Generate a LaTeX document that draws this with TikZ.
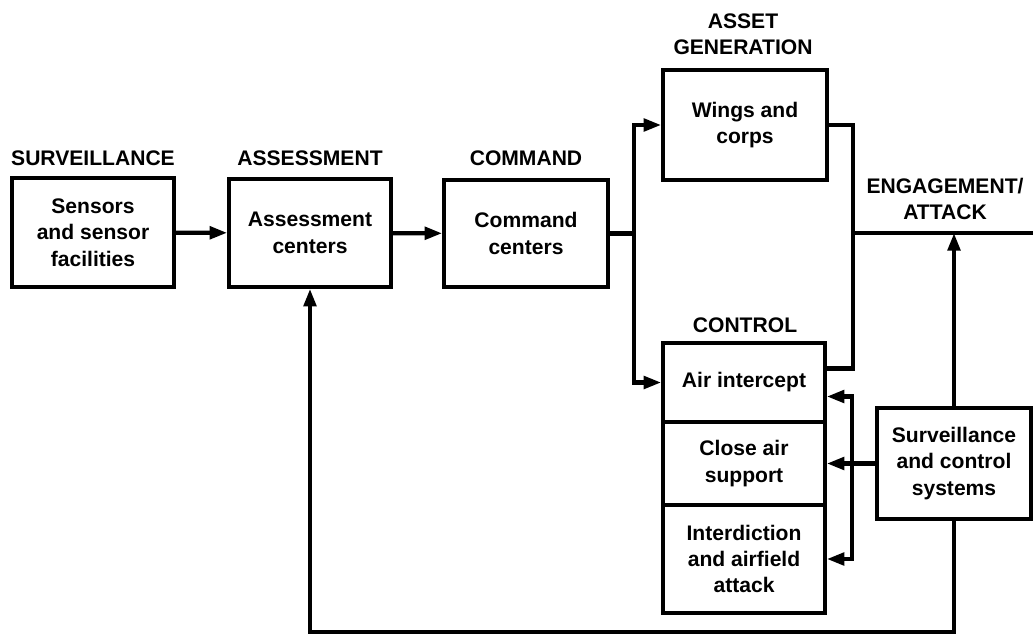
\documentclass[tikz,border=0pt]{standalone}
\usepackage{fontspec}
\setmainfont{Liberation Sans}
\usetikzlibrary{arrows.meta,calc}
\tikzset{
  blk/.style={draw,line width=2pt,align=center,inner sep=2pt,font=\fontsize{12}{15}\selectfont\bfseries},
  hdr/.style={align=center,inner sep=0pt,font=\fontsize{12}{15}\selectfont\bfseries},
  wire/.style={line width=2.4pt},
  conn/.style={wire,-{Triangle[length=10pt,width=7pt]}}
}

\begin{document}
\begin{tikzpicture}[x=0.02cm,y=-0.02cm]
\useasboundingbox (0,0) rectangle (1033,642);
\node[blk,minimum width=3.24cm,minimum height=2.18cm] (sens) at (93,232.5) {Sensors\\and sensor\\facilities};
\node[blk,minimum width=3.24cm,minimum height=2.16cm] (asmt) at (310,233) {Assessment\\centers};
\node[blk,minimum width=3.28cm,minimum height=2.14cm] (cmd) at (526,233.5) {Command\\centers};
\node[blk,minimum width=3.28cm,minimum height=2.2cm] (wings) at (745,125) {Wings and\\corps};
\node[blk,minimum width=3.24cm,minimum height=1.58cm] (air) at (744,382.5) {Air intercept};
\node[blk,minimum width=3.24cm,minimum height=1.66cm] (cas) at (744,463.5) {Close air\\support};
\node[blk,minimum width=3.24cm,minimum height=2.16cm] (intd) at (744,559) {Interdiction\\and airfield\\attack};
\node[blk,minimum width=3.08cm,minimum height=2.22cm] (sacs) at (954,463.5) {Surveillance\\and control\\systems};
\node[hdr] (hsurv) at (93,158) {SURVEILLANCE};
\node[hdr] (hasmt) at (310,158) {ASSESSMENT};
\node[hdr] (hcmd) at (526,158) {COMMAND};
\node[hdr] (hasset) at (743,34) {ASSET\\GENERATION};
\node[hdr] (hctrl) at (745,325) {CONTROL};
\node[hdr] (heng) at (945,199) {ENGAGEMENT/\\ATTACK};
\coordinate (split) at ($(cmd.east)+(24,0)$);
\coordinate (join) at (853,233);
\coordinate (bus) at ($(cas.east)+(25,0)$);
\coordinate (out) at (1033,233);
\draw[conn] (sens) -- (asmt);
\draw[conn] (asmt) -- (cmd);
\draw[wire] (cmd.east) -- (split);
\draw[conn] (split) |- (wings.west);
\draw[conn] (split) |- (air.west);
\draw[wire] (wings.east) -| (join) |- ($(air.east)+(0,-14)$);
\draw[wire] (join) -- (out);
\draw[conn] (sacs.north) -- (sacs.north |- join);
\draw[conn] (sacs.west) -- (cas.east);
\draw[conn] (bus) |- ($(air.east)+(0,14)$);
\draw[conn] (bus) |- (intd.east);
\draw[conn] (sacs.south) -- ++(0,111) -| (asmt.south);
\end{tikzpicture}
\end{document}
